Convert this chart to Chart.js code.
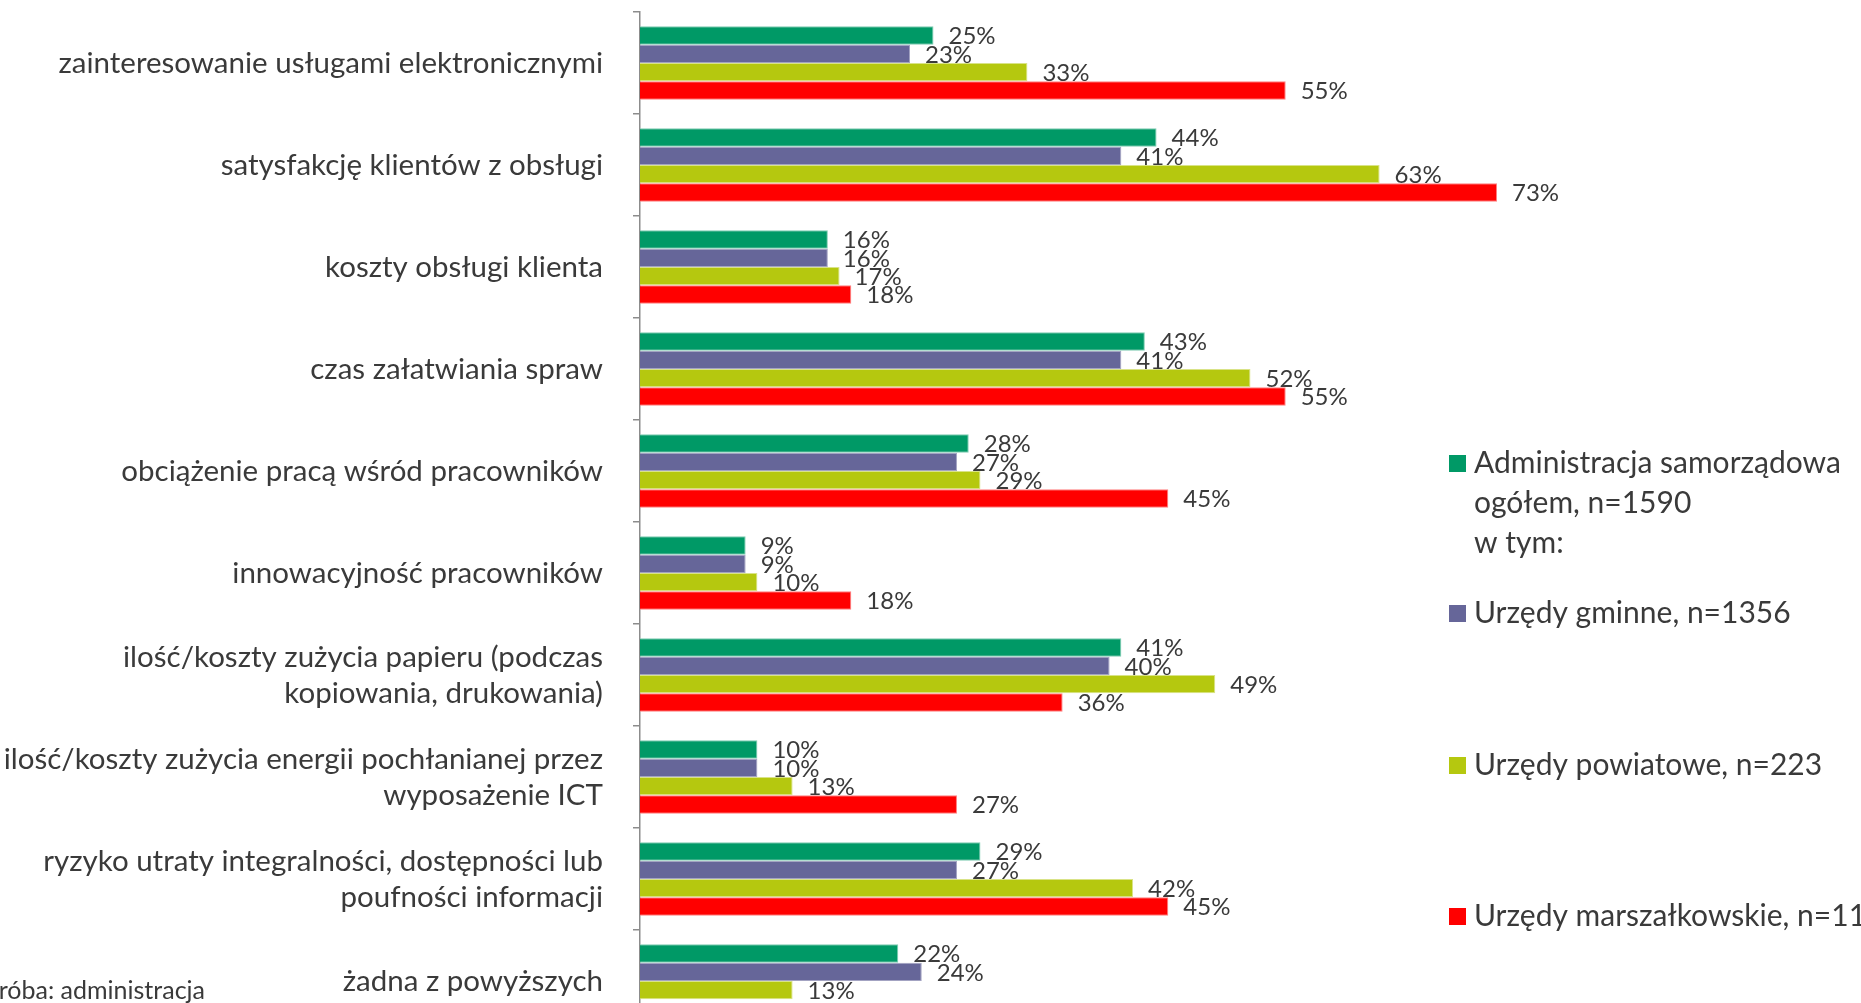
<!DOCTYPE html>
<html lang="pl">
<head>
<meta charset="UTF-8">
<title>Wpływ e-usług</title>
<script src="https://cdn.jsdelivr.net/npm/chart.js"></script>
<style>
  html, body { margin: 0; padding: 0; background: #fff; overflow: hidden; }
  #wrap { width: 1861px; height: 1035px; }
</style>
</head>
<body>
<div id="wrap"><canvas id="chart" width="1861" height="1035"></canvas></div>
<script>
const categories = [
  "zainteresowanie usługami elektronicznymi",
  "satysfakcję klientów z obsługi",
  "koszty obsługi klienta",
  "czas załatwiania spraw",
  "obciążenie pracą wśród pracowników",
  "innowacyjność pracowników",
  ["ilość/koszty zużycia papieru (podczas", "kopiowania, drukowania)"],
  ["ilość/koszty zużycia energii pochłanianej przez", "wyposażenie ICT"],
  ["ryzyko utraty integralności, dostępności lub", "poufności informacji"],
  "żadna z powyższych"
];
const seriesNames = [
  ["Administracja samorządowa", "ogółem, n=1590", "w tym:"],
  ["Urzędy gminne, n=1356"],
  ["Urzędy powiatowe, n=223"],
  ["Urzędy marszałkowskie, n=11"]
];
const ogolem         = [25, 44, 16, 43, 28, 9, 41, 10, 29, 22];
const gminne         = [23, 41, 16, 41, 27, 9, 40, 10, 27, 24];
const powiatowe      = [33, 63, 17, 52, 29, 10, 49, 13, 42, 13];
const marszalkowskie = [55, 73, 18, 55, 45, 18, 36, 27, 45, null];
const sourceNote = "Próba: administracja";

const colors = ["#009966", "#666699", "#B5C80F", "#FF0000"];
const edges  = ["#7fccb2", "#a3a3c2", "#d9e387", "#ff8080"];
const FONT = "Lato, 'Open Sans', sans-serif";
const TEXT = "#3a3a3a";

// percent labels just right of each bar
const barLabels = {
  id: "barLabels",
  afterDatasetsDraw(chart) {
    const ctx = chart.ctx;
    ctx.save();
    ctx.font = "24px " + FONT;
    ctx.fillStyle = TEXT;
    ctx.textBaseline = "middle";
    chart.data.datasets.forEach((ds, i) => {
      chart.getDatasetMeta(i).data.forEach((bar, j) => {
        const v = ds.data[j];
        if (v == null) return;
        ctx.fillText(v + "%", bar.x + 15, bar.y + 1);
      });
    });
    ctx.restore();
  }
};

// legend on the right + cropped source note bottom-left
const sideLegend = {
  id: "sideLegend",
  afterDraw(chart) {
    const ctx = chart.ctx;
    const rows = [463, 613, 765, 916];
    ctx.save();
    ctx.textBaseline = "middle";
    ctx.font = "30px " + FONT;
    chart.data.datasets.forEach((ds, i) => {
      const y = rows[i];
      ctx.fillStyle = colors[i];
      ctx.fillRect(1449, y - 8, 17, 17);
      ctx.fillStyle = TEXT;
      seriesNames[i].forEach((line, k) => ctx.fillText(line, 1474, y + k * 40));
    });
    ctx.font = "25px " + FONT;
    ctx.fillText(sourceNote, -ctx.measureText("P").width - 1, 991);
    ctx.restore();
  }
};

new Chart(document.getElementById("chart"), {
  type: "bar",
  data: {
    labels: categories,
    datasets: [ogolem, gminne, powiatowe, marszalkowskie].map((d, i) => ({
      label: seriesNames[i].join(" "),
      data: d,
      backgroundColor: colors[i],
      borderColor: edges[i],
      borderWidth: 1,
      categoryPercentage: 0.72,
      barPercentage: 1.0
    }))
  },
  options: {
    indexAxis: "y",
    responsive: false,
    animation: false,
    layout: { padding: { left: 0, right: 47, top: 12, bottom: 3 } },
    plugins: { legend: { display: false }, tooltip: { enabled: false } },
    scales: {
      x: { display: false, min: 0, max: 100 },
      y: {
        afterFit(scale) {
          scale.width = 640;
          scale.paddingTop = 0;
          scale.paddingBottom = 0;
        },
        border: { display: true, color: "#8c8c8c", width: 1.5 },
        grid: { drawOnChartArea: false, drawTicks: true, tickLength: 7, color: "#8c8c8c", lineWidth: 1.5 },
        ticks: { color: TEXT, font: { family: FONT, size: 29.5, lineHeight: 1.22 }, padding: 30 }
      }
    }
  },
  plugins: [barLabels, sideLegend]
});
</script>
</body>
</html>
